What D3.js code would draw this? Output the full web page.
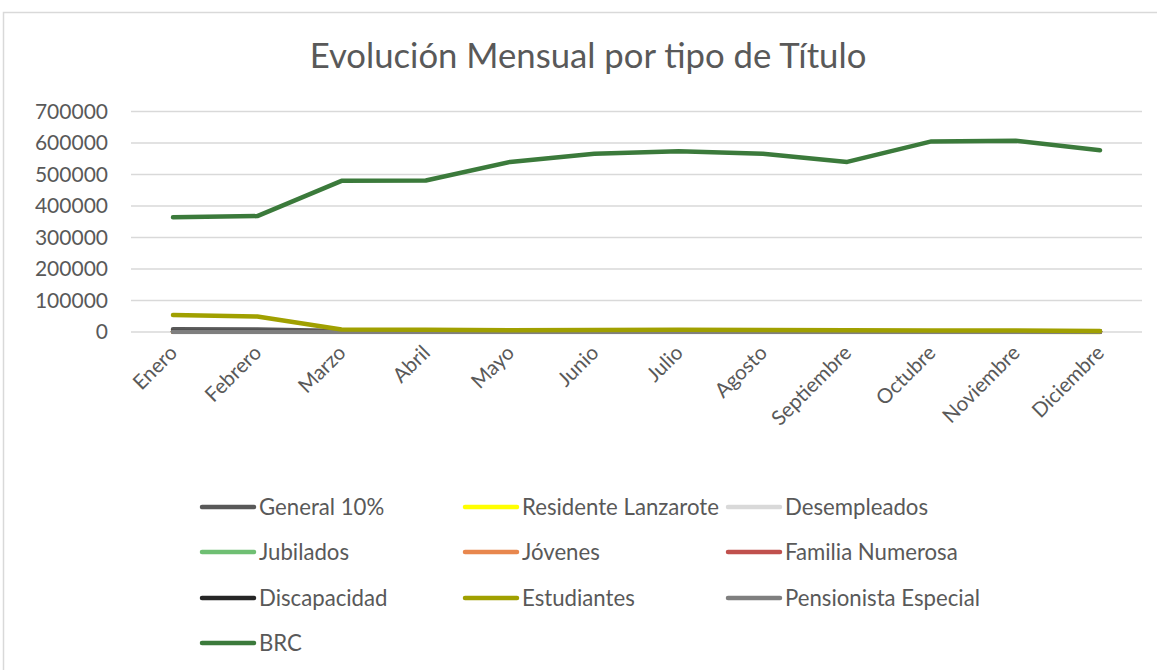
<!DOCTYPE html>
<html><head><meta charset="utf-8">
<script src="https://cdn.jsdelivr.net/npm/d3@7"></script>
<style>body{margin:0;background:#fff;}svg{display:block;}</style>
</head><body><svg id="c" width="1157" height="670"></svg>
<script>
const months = ["Enero","Febrero","Marzo","Abril","Mayo","Junio","Julio","Agosto","Septiembre","Octubre","Noviembre","Diciembre"];
const yTicks = [0,100000,200000,300000,400000,500000,600000,700000];
const seriesNames = ["General 10%","Residente Lanzarote","Desempleados","Jubilados","Jóvenes","Familia Numerosa","Discapacidad","Estudiantes","Pensionista Especial","BRC"];
const seriesColors = ["#595959","#ffff00","#d9d9d9","#6fbf73","#e8874e","#c0504d","#262626","#a0a000","#7f7f7f","#3b7a3b"];
const general10 = [9000,8000,3000,2500,2000,2000,2500,2500,2000,2000,2000,1500];
const residente = [500,500,400,400,400,400,400,400,400,400,400,300];
const desempleados = [300,300,300,300,300,300,300,300,300,300,300,300];
const jubilados = [400,400,400,400,400,400,400,400,400,400,400,400];
const jovenes = [600,600,500,500,500,500,500,500,500,500,500,400];
const familia = [1500,1500,1200,1200,1200,1200,1200,1200,1200,1200,1200,1000];
const discapacidad = [2000,2000,1500,1500,1500,1500,1500,1500,1500,1500,1500,1200];
const estudiantes = [54000,49000,8000,7000,5500,6000,7000,6500,5500,5000,5000,3500];
const pensionista = [1000,1000,900,900,900,900,900,900,900,900,900,800];
const brc = [364000,368000,480000,481000,540000,566000,574000,566000,540000,605000,607000,577000];
const seriesValues = [general10,residente,desempleados,jubilados,jovenes,familia,discapacidad,estudiantes,pensionista,brc];

const FONT = "Lato, 'Open Sans', sans-serif";
const svg = d3.select("#c").style("font-family", FONT);
svg.append("rect").attr("x",3.5).attr("y",12.5).attr("width",1170).attr("height",680)
  .attr("fill","#fff").attr("stroke","#d9d9d9").attr("stroke-width",1.5);

svg.append("text").attr("x",588).attr("y",68).attr("text-anchor","middle")
  .attr("font-size",34.7).attr("fill","#595959").text("Evolución Mensual por tipo de Título");

const x = d3.scalePoint().domain(months).range([173,1100]).padding(0);
const y = d3.scaleLinear().domain([0,700000]).range([332,111.5]);

const grid = svg.append("g");
grid.selectAll("line").data(yTicks).join("line")
  .attr("x1",131).attr("x2",1142).attr("y1",d=>y(d)).attr("y2",d=>y(d))
  .attr("stroke","#d9d9d9").attr("stroke-width",1.3);

const yAxis = svg.append("g").attr("transform","translate(131,0)")
  .call(d3.axisLeft(y).tickValues(yTicks).tickSize(0).tickPadding(23).tickFormat(d3.format("d")));
yAxis.attr("font-family",FONT);
yAxis.select(".domain").remove();
yAxis.selectAll("text").attr("font-size",21).attr("fill","#595959");

const xAxis = svg.append("g").attr("transform","translate(0,332)")
  .call(d3.axisBottom(x).tickSize(0).tickPadding(0));
xAxis.attr("font-family",FONT);
xAxis.select(".domain").remove();
xAxis.selectAll("text").attr("font-size",20.5).attr("fill","#595959")
  .attr("text-anchor","end").attr("dy",null).attr("y",0)
  .attr("transform","translate(5,22) rotate(-45)");

const line = d3.line().x((d,i)=>x(months[i])).y(d=>y(d));
const order = [0,1,2,3,4,5,6,8,7,9];
svg.append("g").selectAll("path").data(order).join("path")
  .attr("d",i=>line(seriesValues[i])).attr("fill","none")
  .attr("stroke",i=>seriesColors[i]).attr("stroke-width",4.5)
  .attr("stroke-linecap","round").attr("stroke-linejoin","round");

const legend = svg.append("g");
const colX = [202,465,728];
const rowY = [507,552,598,643];
seriesNames.forEach((n,i)=>{
  const cx = colX[i%3], cy = rowY[Math.floor(i/3)];
  legend.append("line").attr("x1",cx).attr("x2",cx+52).attr("y1",cy).attr("y2",cy)
    .attr("stroke",seriesColors[i]).attr("stroke-width",4.5).attr("stroke-linecap","round");
  legend.append("text").attr("x",cx+57).attr("y",cy+7.5).attr("font-size",22.2)
    .attr("fill","#595959").text(n);
});
</script></body></html>
